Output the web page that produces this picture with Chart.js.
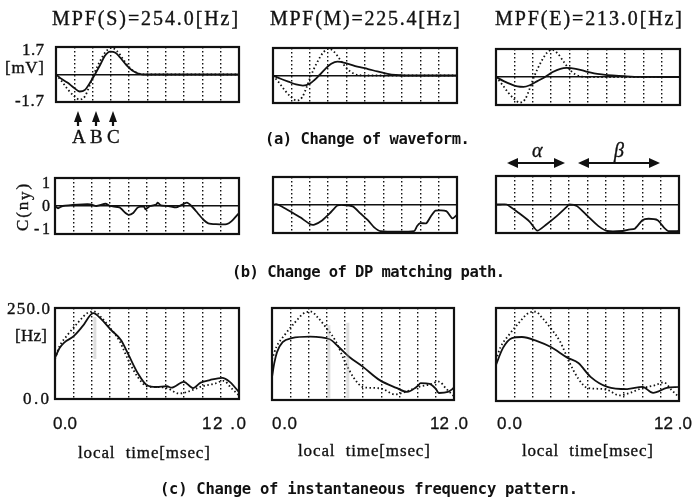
<!DOCTYPE html>
<html>
<head>
<meta charset="utf-8">
<script src="https://cdn.jsdelivr.net/npm/chart.js@4.4.1/dist/chart.umd.min.js"></script>
<style>
  html, body { margin: 0; padding: 0; background: #fff; }
  #stage { position: relative; width: 692px; height: 500px; overflow: hidden; }
  .lbl { position: absolute; white-space: nowrap; color: #111; line-height: 1; }
  .serif { font-family: "Liberation Serif", "DejaVu Serif", serif; -webkit-text-stroke: 0.35px #111; }
  .mono { font-family: "DejaVu Sans Mono", "Liberation Mono", monospace; font-weight: bold; }
  .sans { font-family: "Liberation Sans", Arial, sans-serif; -webkit-text-stroke: 0.3px #111; }
  #deco { position: absolute; left: 0; top: 0; }
</style>
</head>
<body>
<div id="stage">
  <svg id="deco" width="692" height="500"></svg>
</div>
<script>
// ===============================
// DATA (time axis in msec, 0 – 12)
// ===============================
const TIME_MIN = 0;
const TIME_MAX = 12;
const TIME_STEP = 1.2;

// Titles / tick labels / captions
const mpfTitles = ["MPF(S)=254.0[Hz]", "MPF(M)=225.4[Hz]", "MPF(E)=213.0[Hz]"];
const waveTickLabels = ["1.7", "[mV]", "-1.7"];
const pathTickLabels = ["1", "0", "-1"];
const freqTickLabels = ["250.0", "[Hz]", "0.0"];
const timeTickLabels = ["0.0", "12 .0"];
const peakLetters = ["A", "B", "C"];
const captions = [
  "(a) Change of waveform.",
  "(b) Change of DP matching path.",
  "(c) Change of instantaneous frequency pattern."
];

// (a) waveform [mV] – dotted reference
const waveRefT = [0, 0.4, 0.8, 1.2, 1.55, 1.9, 2.2, 2.5, 2.9, 3.3, 3.65, 4.0, 4.4, 4.8, 5.2, 5.6, 6.2, 12];
const waveRefV = [0, -0.45, -0.95, -1.35, -1.55, -1.35, -0.7, 0.05, 0.85, 1.45, 1.65, 1.45, 0.95, 0.45, 0.15, 0.02, 0, 0];
// (a) waveform – solid, S / M / E
const waveST = [0, 0.4, 0.75, 1.15, 1.55, 1.9, 2.2, 2.55, 2.9, 3.2, 3.55, 3.9, 4.2, 4.6, 5.0, 5.4, 5.9, 12];
const waveSV = [0, -0.3, -0.5, -0.8, -1.05, -0.95, -0.55, 0, 0.6, 1.15, 1.42, 1.35, 1.05, 0.6, 0.25, 0.06, 0, 0];
const waveMT = [0, 0.5, 1.0, 1.5, 1.95, 2.4, 2.7, 3.0, 3.4, 3.8, 4.2, 4.8, 5.5, 6.2, 6.8, 7.4, 8.0, 8.6, 12];
const waveMV = [0, -0.2, -0.38, -0.55, -0.62, -0.5, -0.28, 0, 0.4, 0.72, 0.86, 0.75, 0.55, 0.4, 0.25, 0.12, 0.03, 0, 0];
const waveET = [0, 0.5, 1.0, 1.4, 1.8, 2.2, 2.7, 3.2, 3.7, 4.2, 4.6, 5.2, 5.8, 6.4, 7.0, 7.6, 8.4, 9.4, 12];
const waveEV = [0, -0.25, -0.45, -0.57, -0.6, -0.5, -0.25, 0, 0.3, 0.5, 0.55, 0.5, 0.35, 0.22, 0.15, 0.1, 0.05, 0.01, 0];

// (b) DP matching path C(ny)
const pathST = [0, 0.2, 0.5, 1.5, 2.3, 2.7, 3.3, 3.6, 4.2, 4.6, 4.8, 5.1, 5.4, 5.8, 5.9, 6.2, 6.6, 6.7, 6.9, 7.4, 7.9, 8.2, 8.6, 8.9, 9.3, 9.7, 10.0, 10.5, 11.2, 11.5, 12.0];
const pathSV = [0, -0.08, 0, 0.05, 0.06, 0, 0.08, 0, -0.05, -0.25, -0.32, -0.25, -0.05, -0.02, -0.12, 0, 0.05, 0.12, 0.02, 0, -0.05, 0.02, 0.12, 0, -0.25, -0.5, -0.62, -0.65, -0.65, -0.55, -0.25];
const pathMT = [0, 0.2, 0.6, 1.2, 1.8, 2.4, 2.7, 3.2, 3.7, 4.2, 4.6, 5.2, 5.7, 6.2, 6.6, 7.0, 9.2, 9.4, 9.6, 10.0, 10.3, 10.6, 11.3, 11.7, 12.0];
const pathMV = [0, 0.03, -0.06, -0.25, -0.45, -0.68, -0.7, -0.55, -0.3, -0.02, 0, -0.05, -0.3, -0.55, -0.8, -0.93, -0.93, -0.75, -0.65, -0.65, -0.4, -0.2, -0.22, -0.48, -0.35];
const pathET = [0, 0.3, 0.7, 1.5, 2.2, 2.7, 3.3, 4.0, 4.7, 4.8, 5.3, 6.0, 6.7, 7.3, 8.3, 8.7, 9.1, 9.6, 10.0, 10.6, 11.0, 11.3, 12];
const pathEV = [0, 0, 0, -0.3, -0.6, -0.92, -0.7, -0.4, -0.05, 0, -0.05, -0.4, -0.75, -0.93, -0.93, -0.88, -0.85, -0.55, -0.5, -0.55, -0.8, -0.93, -0.93];

// (c) instantaneous frequency [Hz] – dotted reference
const freqRefT = [0, 0.3, 0.8, 1.5, 2.2, 2.6, 3.0, 3.6, 4.2, 4.8, 5.4, 6.0, 6.6, 7.3, 8.1, 8.8, 9.6, 10.4, 11.0, 11.5, 12.0];
const freqRefV = [110, 145, 175, 210, 238, 240, 225, 195, 160, 105, 60, 35, 33, 30, 15, 22, 35, 42, 50, 30, 10];
// (c) solid, S / M / E
const freqST = [0, 0.3, 0.6, 1.2, 1.8, 2.5, 3.0, 3.6, 4.3, 4.8, 5.4, 6.0, 6.6, 7.3, 7.6, 8.4, 9.0, 9.5, 10.1, 10.9, 11.4, 12.0];
const freqSV = [113, 140, 155, 172, 200, 236, 220, 192, 162, 121, 71, 38, 33, 35, 31, 47, 30, 45, 52, 58, 47, 19];
const freqMT = [0, 0.15, 0.33, 0.7, 1.3, 2.5, 3.8, 4.4, 5.1, 6.0, 7.1, 8.2, 8.9, 9.6, 9.8, 10.4, 10.8, 11.0, 11.6, 12.0];
const freqMV = [62, 100, 130, 157, 168, 172, 165, 144, 117, 90, 54, 33, 22, 38, 46, 44, 30, 19, 22, 33];
const freqET = [0, 0.45, 1.05, 1.7, 2.7, 3.6, 4.7, 5.4, 6.2, 7.3, 8.6, 9.6, 10.3, 11.2, 12.0];
const freqEV = [97, 142, 169, 172, 161, 145, 116, 102, 65, 38, 32, 38, 22, 35, 38];

// faint gray markers in (c)
const markST = [2.6, 2.6];
const markSV = [225, 110];
const markM1T = [3.75, 3.75];
const markM1V = [203, 5];
const markM2T = [5.0, 5.0];
const markM2V = [210, 5];

// ===============================
// LAYOUT
// ===============================
const stage = document.getElementById("stage");
const INK = "#111";
const DOTS = [1.5, 2.5];

// [left, top, right, bottom] of each plot box
const boxes = {
  a: [[56, 47, 239, 102], [273, 48, 457, 103], [496, 49, 680, 105]],
  b: [[55, 178, 239, 234], [273, 177, 457, 233], [496, 176, 679, 233]],
  c: [[55, 308, 239, 399], [272, 308, 454, 400], [496, 308, 679, 401]]
};

const zip = (t, v) => t.map((x, i) => ({ x, y: v[i] }));

function line(t, v, dotted, extra) {
  return Object.assign({
    data: zip(t, v),
    borderColor: INK,
    borderWidth: 1.8,
    borderDash: dotted ? DOTS : [],
    pointRadius: 0,
    cubicInterpolationMode: "monotone",
    fill: false
  }, extra || {});
}

// draws the heavy frame round the plot area
const framePlugin = {
  id: "frame",
  afterDraw(chart) {
    const a = chart.chartArea;
    const ctx = chart.ctx;
    ctx.save();
    ctx.strokeStyle = INK;
    ctx.lineWidth = 2.2;
    ctx.strokeRect(a.left, a.top, a.right - a.left, a.bottom - a.top);
    ctx.restore();
  }
};

function makePanel(box, yMin, yMax, yStep, showZero, datasets) {
  const pad = 4;
  const w = box[2] - box[0];
  const h = box[3] - box[1];
  const canvas = document.createElement("canvas");
  canvas.width = w + 2 * pad;
  canvas.height = h + 2 * pad;
  canvas.style.cssText =
    `position:absolute;left:${box[0] - pad}px;top:${box[1] - pad}px;` +
    `width:${w + 2 * pad}px;height:${h + 2 * pad}px`;
  stage.insertBefore(canvas, document.getElementById("deco"));

  new Chart(canvas, {
    type: "line",
    data: { datasets },
    options: {
      responsive: false,
      animation: false,
      devicePixelRatio: 1,
      layout: { padding: pad },
      plugins: { legend: { display: false }, tooltip: { enabled: false } },
      scales: {
        x: {
          type: "linear",
          min: TIME_MIN,
          max: TIME_MAX,
          ticks: { display: false, stepSize: TIME_STEP },
          border: { display: false, dash: DOTS },
          grid: {
            drawTicks: false,
            lineWidth: 1.4,
            color: c => (c.tick && c.tick.value > 0.01 && c.tick.value < TIME_MAX - 0.01) ? INK : "transparent"
          }
        },
        y: {
          min: yMin,
          max: yMax,
          ticks: { display: false, stepSize: yStep },
          border: { display: false },
          grid: {
            drawTicks: false,
            lineWidth: 1.6,
            color: c => (showZero && c.tick && Math.abs(c.tick.value) < 1e-6) ? INK : "transparent"
          }
        }
      }
    },
    plugins: [framePlugin]
  });
}

// ===============================
// TEXT HELPERS
// ===============================
function placeText(html, left, right, cy, cls, size, rotate) {
  const el = document.createElement("div");
  el.className = "lbl " + cls;
  el.style.fontSize = size + "px";
  el.innerHTML = html;
  stage.appendChild(el);
  const natural = el.getBoundingClientRect().width;
  const n = el.textContent.length;
  if (n > 1) el.style.letterSpacing = (((right - left) - natural) / (n - 1)).toFixed(2) + "px";
  const r = el.getBoundingClientRect();
  if (rotate) {
    // left/right here are the vertical extent, cy is the centre x
    const cyR = (left + right) / 2;
    el.style.left = (cy - r.width / 2) + "px";
    el.style.top = (cyR - r.height / 2) + "px";
    el.style.transform = "rotate(-90deg)";
  } else {
    el.style.left = left + "px";
    el.style.top = (cy - r.height / 2) + "px";
  }
}

function svgEl(tag, attrs) {
  const el = document.createElementNS("http://www.w3.org/2000/svg", tag);
  Object.keys(attrs).forEach(k => el.setAttribute(k, attrs[k]));
  document.getElementById("deco").appendChild(el);
}

function upArrow(cx) {
  svgEl("polygon", { points: `${cx},111 ${cx - 4},122 ${cx + 4},122`, fill: INK });
  svgEl("line", { x1: cx, y1: 121, x2: cx, y2: 126, stroke: INK, "stroke-width": 2.2 });
}

function doubleArrow(x1, x2, y) {
  svgEl("line", { x1: x1 + 6, y1: y, x2: x2 - 6, y2: y, stroke: INK, "stroke-width": 1.8 });
  svgEl("polygon", { points: `${x1},${y} ${x1 + 11},${y - 5} ${x1 + 11},${y + 5}`, fill: INK });
  svgEl("polygon", { points: `${x2},${y} ${x2 - 11},${y - 5} ${x2 - 11},${y + 5}`, fill: INK });
}

// ===============================
// BUILD
// ===============================
document.addEventListener("DOMContentLoaded", () => {
  // (a) waveforms
  const waveSolid = [[waveST, waveSV], [waveMT, waveMV], [waveET, waveEV]];
  boxes.a.forEach((box, i) => {
    makePanel(box, -1.7, 1.7, 1.7, true, [
      line(waveRefT, waveRefV, true),
      line(waveSolid[i][0], waveSolid[i][1], false)
    ]);
  });

  // (b) DP matching paths
  const paths = [[pathST, pathSV], [pathMT, pathMV], [pathET, pathEV]];
  boxes.b.forEach((box, i) => {
    makePanel(box, -1, 1, 1, true, [
      line(paths[i][0], paths[i][1], false, { cubicInterpolationMode: "default", tension: 0.2 })
    ]);
  });

  // (c) instantaneous frequency
  const gray = { borderColor: "rgba(160,160,160,0.35)", borderWidth: 3, cubicInterpolationMode: "default" };
  const freqSolid = [[freqST, freqSV], [freqMT, freqMV], [freqET, freqEV]];
  const marks = [
    [line(markST, markSV, false, gray)],
    [line(markM1T, markM1V, false, gray), line(markM2T, markM2V, false, gray)],
    []
  ];
  boxes.c.forEach((box, i) => {
    makePanel(box, 0, 250, 250, false, marks[i].concat([
      line(freqRefT, freqRefV, true),
      line(freqSolid[i][0], freqSolid[i][1], false)
    ]));
  });

  // titles
  placeText(mpfTitles[0], 52, 238, 18, "serif", 20);
  placeText(mpfTitles[1], 270, 460, 18, "serif", 20);
  placeText(mpfTitles[2], 495, 682, 18, "serif", 20);

  // (a) y labels + peak markers
  placeText(waveTickLabels[0], 22, 44, 49, "serif", 17);
  placeText(waveTickLabels[1], 5, 44, 67, "serif", 17);
  placeText(waveTickLabels[2], 15, 44, 100, "serif", 17);
  [78, 96, 113].forEach((cx, i) => {
    upArrow(cx);
    placeText(peakLetters[i], cx - 6, cx + 6, 136, "serif", 19);
  });
  placeText(captions[0], 265, 470, 140, "mono", 15.5);

  // alpha / beta spans
  doubleArrow(507, 565, 163);
  doubleArrow(578, 660, 163);
  placeText("<i>α</i>", 532, 544, 150, "serif", 20);
  placeText("<i>β</i>", 614, 626, 150, "serif", 20);

  // (b) y labels
  placeText("C(n<span style='position:relative;top:2px'>y</span>)", 183, 230, 22, "serif", 17, true);
  placeText(pathTickLabels[0], 42, 48, 183, "serif", 16);
  placeText(pathTickLabels[1], 42, 50, 206, "serif", 16);
  placeText(pathTickLabels[2], 34, 50, 229, "serif", 16);
  placeText(captions[1], 232, 505, 273, "mono", 15.5);

  // (c) y labels
  placeText(freqTickLabels[0], 7, 50, 308, "serif", 17);
  placeText(freqTickLabels[1], 15, 47, 335, "serif", 17);
  placeText(freqTickLabels[2], 23, 49, 398, "serif", 17);

  // (c) time axes
  const timeSpans = [[53, 77, 202, 246, 78, 210, 452], [272, 297, 430, 468, 298, 430, 450], [497, 522, 654, 692, 522, 653, 450]];
  timeSpans.forEach(s => {
    placeText(timeTickLabels[0], s[0], s[1], 423, "sans", 17);
    placeText(timeTickLabels[1], s[2], s[3], 423, "sans", 17);
    placeText("local&nbsp; time[msec]", s[4], s[5], s[6], "serif", 17);
  });
  placeText(captions[2], 160, 578, 490, "mono", 15.5);
});
</script>
</body>
</html>
